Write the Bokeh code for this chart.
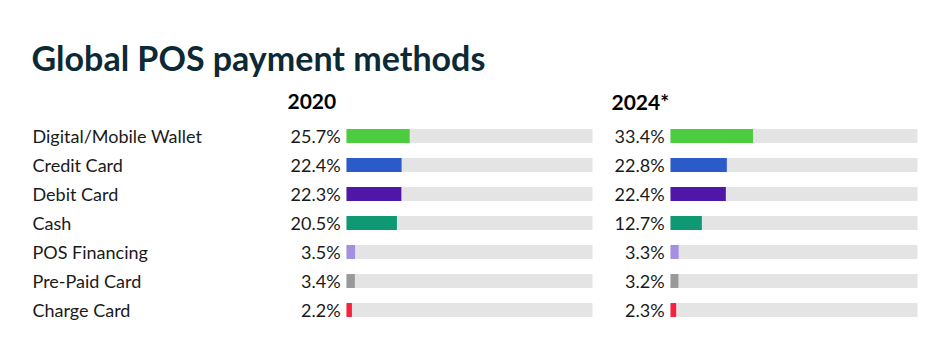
from bokeh.plotting import figure
from bokeh.models import Range1d
from bokeh.core.properties import value
from bokeh.embed import file_html
from bokeh.resources import INLINE

categories = ["Digital/Mobile Wallet", "Credit Card", "Debit Card", "Cash",
              "POS Financing", "Pre-Paid Card", "Charge Card"]
values_2020 = [25.7, 22.4, 22.3, 20.5, 3.5, 3.4, 2.2]
values_2024 = [33.4, 22.8, 22.4, 12.7, 3.3, 3.2, 2.3]
colors = ["#4ccd3f", "#2a5bc8", "#4f16a8", "#0f9874", "#a58fe0", "#99999b", "#f5213d"]
title = "Global POS payment methods"
headers = ["2020", "2024*"]

W, H = 929, 353
p = figure(width=W, height=H, output_backend="svg", toolbar_location=None,
           x_range=Range1d(0, W), y_range=Range1d(H, 0), min_border=0)
p.axis.visible = False
p.grid.visible = False
p.outline_line_color = None
p.background_fill_color = "white"
p.border_fill_color = "white"

# rows: row 0 centred at pixel 135.5, spacing 29 px
row0, step = 135.5, 29.0
p.extra_y_ranges = {"rows": Range1d(start=(H - row0) / step, end=-row0 / step)}

# panel scales: 0..100 % mapped onto the bar tracks
def pct_range(px0, px100):
    s = (px100 - px0) / 100.0
    return Range1d(start=-px0 / s, end=(W - px0) / s)

p.extra_x_ranges = {"p2020": pct_range(346, 592), "p2024": pct_range(670, 917)}

rows = list(range(len(categories)))

p.text(x=[31], y=[57], text=[title], text_font=value("Lato"), text_font_style="bold",
       text_font_size="34px", text_color="#0c2a35", text_baseline="alphabetic")

p.text(x=[287, 611], y=[101, 101], text=headers, text_font=value("Lato"),
       text_font_style="bold", text_font_size="21px", text_color="#000000",
       text_baseline="middle")

p.text(x=[32] * len(rows), y=rows, y_range_name="rows", text=categories,
       text_font=value("Lato"), text_font_size="18px", text_color="#1a1a1a",
       text_baseline="middle")

for name, vals, xr in [("2020", values_2020, "p2020"), ("2024", values_2024, "p2024")]:
    p.hbar(y=rows, left=0, right=100, height=0.48, y_range_name="rows",
           x_range_name=xr, fill_color="#e4e4e4", line_color=None)
    p.hbar(y=rows, left=0, right=vals, height=0.48, y_range_name="rows",
           x_range_name=xr, fill_color=colors, line_color=None)
    p.text(x=[-2.4] * len(rows), y=rows, y_range_name="rows", x_range_name=xr,
           text=[f"{v:.1f}%" for v in vals], text_font=value("Lato"),
           text_font_size="18px", text_color="#1a1a1a", text_align="right",
           text_baseline="middle")

open("out.html", "w").write(file_html(p, INLINE))
